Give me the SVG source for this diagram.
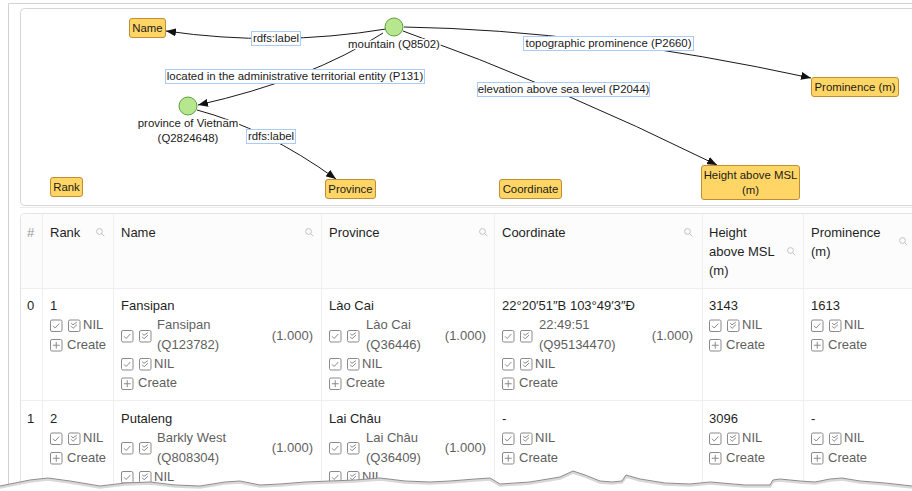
<svg xmlns="http://www.w3.org/2000/svg" xmlns:xlink="http://www.w3.org/1999/xlink" width="912" height="491" viewBox="0 0 912 491">
<style>
text{font-family:"Liberation Sans",Arial,sans-serif}
.g{font-size:11.4px;fill:#1a1a1a}
.gc{text-anchor:middle}
.halo{paint-order:stroke;stroke:#fff;stroke-width:3px;stroke-linejoin:round}
.col{fill:#ffd666;stroke:#c08d35;stroke-width:1}
.ent{fill:#b6e68e;stroke:#5e9e3e;stroke-width:1}
.el{fill:#fff;stroke:#a9cbf5;stroke-width:1}
.edge{fill:none;stroke:#1a1a1a;stroke-width:1}
.t{font-size:13px;fill:#1f1f1f}
.h{font-size:13px;fill:#1f1f1f}
.hash{font-size:13px;fill:#9a9a9a}
.s{font-size:13px;fill:#5f5f5f}
.sep{stroke:#efefef;stroke-width:1}
.ic{fill:none;stroke:#8a8a8a;stroke-width:1}
.sr{fill:none;stroke:#c2c2c2;stroke-width:1}
</style>
<defs>
<marker id="arr" markerUnits="userSpaceOnUse" markerWidth="10" markerHeight="8" refX="10" refY="4" orient="auto">
<path d="M0,0 L10,4 L0,8 z" fill="#111"/>
</marker>
<g id="ck" class="ic"><rect x="0.5" y="0.5" width="11.5" height="11.5" rx="1.5"/><path d="M3,6.3 L5.2,8.5 L9.3,4"/></g>
<g id="dck" class="ic"><rect x="0.5" y="0.5" width="11.5" height="11.5" rx="1.5"/><path d="M3.2,3.7 L5,5.3 L8.8,2.7 M3.2,6.8 L5.1,8.8 L9,5.1"/></g>
<g id="pl" class="ic"><rect x="0.5" y="0.5" width="11.5" height="11.5" rx="1.5"/><path d="M6.25,2.8 V9.7 M2.8,6.25 H9.7"/></g>
<g id="sr" class="sr"><circle cx="3.5" cy="3.5" r="2.9"/><path d="M5.6,5.6 L8.3,8.3"/></g>
</defs>

<rect width="912" height="491" fill="#fff"/>
<!-- outer frame -->
<path d="M8.5,491 V3.5 H912" fill="none" stroke="#d2d2d2"/>
<!-- graph panel -->
<rect x="20.5" y="8.5" width="900" height="197" rx="4" fill="#fff" stroke="#d6d6d6"/>
<line x1="20" y1="207.5" x2="912" y2="207.5" stroke="#ececec"/>

<!-- connectors -->
<g id="connectors">
<path class="edge" d="M386,29 Q276,47 166,31" marker-end="url(#arr)"/>
<path class="edge" d="M383,33 Q310,80 198,105" marker-end="url(#arr)"/>
<path class="edge" d="M197,110 Q265,128 336,179" marker-end="url(#arr)"/>
<path class="edge" d="M404,27 Q590,30 811,78" marker-end="url(#arr)"/>
<path class="edge" d="M403,31 Q555,85 717,165" marker-end="url(#arr)"/>
<g id="lbl-rdfs1"><rect class="el" x="251.5" y="31.5" width="49" height="14"/><text class="g gc" x="276" y="42.3">rdfs:label</text></g>
<g id="lbl-p131"><rect class="el" x="165.5" y="69.5" width="259" height="14"/><text class="g gc" x="295" y="80.3">located in the administrative territorial entity (P131)</text></g>
<g id="lbl-rdfs2"><rect class="el" x="246.5" y="129.5" width="49" height="14"/><text class="g gc" x="271" y="140.3">rdfs:label</text></g>
<g id="lbl-p2660"><rect class="el" x="523.5" y="36.5" width="170" height="14"/><text class="g gc" x="608.5" y="47.3">topographic prominence (P2660)</text></g>
<g id="lbl-p2044"><rect class="el" x="477.5" y="82.5" width="172" height="14"/><text class="g gc" x="563.5" y="93.3">elevation above sea level (P2044)</text></g>
</g>

<!-- nodes -->
<g id="n-mountain"><circle class="ent" cx="394" cy="27" r="9"/><text class="g gc halo" x="394" y="47.5">mountain (Q8502)</text></g>
<g id="n-province-vn"><circle class="ent" cx="188" cy="106" r="9"/><text class="g gc halo" x="188" y="127">province of Vietnam</text><text class="g gc halo" x="188" y="142">(Q2824648)</text></g>
<g id="n-name"><rect class="col" x="129.5" y="18.5" width="36" height="19" rx="2.5"/><text class="g gc" x="147.5" y="32">Name</text></g>
<g id="n-rank"><rect class="col" x="50.5" y="177.5" width="32" height="19" rx="2.5"/><text class="g gc" x="66.5" y="191">Rank</text></g>
<g id="n-province"><rect class="col" x="325.5" y="179.5" width="50" height="19" rx="2.5"/><text class="g gc" x="350.5" y="193">Province</text></g>
<g id="n-coordinate"><rect class="col" x="499.5" y="179.5" width="62" height="19" rx="2.5"/><text class="g gc" x="530.5" y="193">Coordinate</text></g>
<g id="n-height"><rect class="col" x="701.5" y="165.5" width="98" height="34" rx="2.5"/><text class="g gc" x="750.5" y="178.5">Height above MSL</text><text class="g gc" x="750.5" y="194">(m)</text></g>
<g id="n-prominence"><rect class="col" x="811.5" y="77.5" width="87" height="19" rx="2.5"/><text class="g gc" x="855" y="90.5">Prominence (m)</text></g>

<!-- table -->
<g id="table">
<rect x="20.5" y="213.5" width="920" height="300" rx="4" fill="#fff" stroke="#e3e3e3"/>
<path d="M21,288 V217.5 Q21,214 25,214 H912 V288 Z" fill="#fcfcfc"/>
<line class="sep" x1="21" y1="288.5" x2="912" y2="288.5"/>
<line class="sep" x1="21" y1="400.5" x2="912" y2="400.5"/>
<line class="sep" x1="42.5" y1="214" x2="42.5" y2="491"/>
<line class="sep" x1="113.5" y1="214" x2="113.5" y2="491"/>
<line class="sep" x1="321.5" y1="214" x2="321.5" y2="491"/>
<line class="sep" x1="494.5" y1="214" x2="494.5" y2="491"/>
<line class="sep" x1="702.5" y1="214" x2="702.5" y2="491"/>
<line class="sep" x1="803.5" y1="214" x2="803.5" y2="491"/>

<!-- header -->
<text class="hash" x="27" y="236.5">#</text>
<text class="h" x="50" y="236.5">Rank</text><use href="#sr" x="96" y="228"/>
<text class="h" x="121" y="236.5">Name</text><use href="#sr" x="305" y="228"/>
<text class="h" x="329" y="236.5">Province</text><use href="#sr" x="479" y="228"/>
<text class="h" x="502" y="236.5">Coordinate</text><use href="#sr" x="684" y="228"/>
<text class="h" x="709" y="236.5">Height</text><text class="h" x="709" y="256">above MSL</text><text class="h" x="709" y="275">(m)</text><use href="#sr" x="787" y="247"/>
<text class="h" x="811" y="236.5">Prominence</text><text class="h" x="811" y="256">(m)</text><use href="#sr" x="899" y="237"/>

<!-- row 0 -->
<text class="t" x="27" y="309.5">0</text>
<text class="t" x="50" y="309.5">1</text>
<use href="#ck" x="50" y="319.5"/><use href="#dck" x="68" y="319.5"/><text class="s" x="83" y="329">NIL</text>
<use href="#pl" x="50" y="339"/><text class="s" x="67" y="348.5">Create</text>

<text class="t" x="121" y="309.5">Fansipan</text>
<use href="#ck" x="121" y="330"/><use href="#dck" x="139" y="330"/>
<text class="s" x="157" y="328.5">Fansipan</text><text class="s" x="157" y="348.5">(Q123782)</text>
<text class="s" x="313" y="339.5" text-anchor="end">(1.000)</text>
<use href="#ck" x="121" y="358"/><use href="#dck" x="139" y="358"/><text class="s" x="154" y="367.5">NIL</text>
<use href="#pl" x="121" y="377.5"/><text class="s" x="138" y="387">Create</text>

<text class="t" x="329" y="309.5">Lào Cai</text>
<use href="#ck" x="329" y="330"/><use href="#dck" x="347" y="330"/>
<text class="s" x="366" y="328.5">Lào Cai</text><text class="s" x="366" y="348.5">(Q36446)</text>
<text class="s" x="486" y="339.5" text-anchor="end">(1.000)</text>
<use href="#ck" x="329" y="358"/><use href="#dck" x="347" y="358"/><text class="s" x="362" y="367.5">NIL</text>
<use href="#pl" x="329" y="377.5"/><text class="s" x="346" y="387">Create</text>

<text class="t" x="502" y="309.5">22°20′51″B 103°49′3″Đ</text>
<use href="#ck" x="502" y="330"/><use href="#dck" x="520" y="330"/>
<text class="s" x="539" y="328.5">22:49:51</text><text class="s" x="539" y="348.5">(Q95134470)</text>
<text class="s" x="693" y="339.5" text-anchor="end">(1.000)</text>
<use href="#ck" x="502" y="358"/><use href="#dck" x="520" y="358"/><text class="s" x="535" y="367.5">NIL</text>
<use href="#pl" x="502" y="377.5"/><text class="s" x="519" y="387">Create</text>

<text class="t" x="709" y="309.5">3143</text>
<use href="#ck" x="709" y="319.5"/><use href="#dck" x="727" y="319.5"/><text class="s" x="742" y="329">NIL</text>
<use href="#pl" x="709" y="339"/><text class="s" x="726" y="348.5">Create</text>

<text class="t" x="811" y="309.5">1613</text>
<use href="#ck" x="811" y="319.5"/><use href="#dck" x="829" y="319.5"/><text class="s" x="844" y="329">NIL</text>
<use href="#pl" x="811" y="339"/><text class="s" x="828" y="348.5">Create</text>

<!-- row 1 -->
<text class="t" x="27" y="422.5">1</text>
<text class="t" x="50" y="422.5">2</text>
<use href="#ck" x="50" y="432.5"/><use href="#dck" x="68" y="432.5"/><text class="s" x="83" y="442">NIL</text>
<use href="#pl" x="50" y="452"/><text class="s" x="67" y="461.5">Create</text>

<text class="t" x="121" y="422.5">Putaleng</text>
<use href="#ck" x="121" y="442"/><use href="#dck" x="139" y="442"/>
<text class="s" x="157" y="441.5">Barkly West</text><text class="s" x="157" y="461.5">(Q808304)</text>
<text class="s" x="313" y="452" text-anchor="end">(1.000)</text>
<use href="#ck" x="121" y="471"/><use href="#dck" x="139" y="471"/><text class="s" x="154" y="480.5">NIL</text>

<text class="t" x="329" y="422.5">Lai Châu</text>
<use href="#ck" x="329" y="442"/><use href="#dck" x="347" y="442"/>
<text class="s" x="366" y="441.5">Lai Châu</text><text class="s" x="366" y="461.5">(Q36409)</text>
<text class="s" x="486" y="452" text-anchor="end">(1.000)</text>
<use href="#ck" x="329" y="471"/><use href="#dck" x="347" y="471"/><text class="s" x="362" y="480.5">NIL</text>

<text class="t" x="502" y="422.5">-</text>
<use href="#ck" x="502" y="432.5"/><use href="#dck" x="520" y="432.5"/><text class="s" x="535" y="442">NIL</text>
<use href="#pl" x="502" y="452"/><text class="s" x="519" y="461.5">Create</text>

<text class="t" x="709" y="422.5">3096</text>
<use href="#ck" x="709" y="432.5"/><use href="#dck" x="727" y="432.5"/><text class="s" x="742" y="442">NIL</text>
<use href="#pl" x="709" y="452"/><text class="s" x="726" y="461.5">Create</text>

<text class="t" x="811" y="422.5">-</text>
<use href="#ck" x="811" y="432.5"/><use href="#dck" x="829" y="432.5"/><text class="s" x="844" y="442">NIL</text>
<use href="#pl" x="811" y="452"/><text class="s" x="828" y="461.5">Create</text>
</g>

<!-- torn edge -->
<g id="torn">
<path d="M0,486 L10,484 L30,480 L48,478 L70,481 L100,486 L125,483 L150,482 L175,485 L200,486 L225,482 L240,481 L260,485 L280,484 L305,482 L330,481 L355,480 L380,478 L405,481 L430,482 L450,481 L475,479 L490,478 L500,484 L530,482 L560,477 L573,471 L585,475 L600,481 L612,482 L622,481 L626,475 L640,479 L665,483 L690,484 L710,482 L745,485 L770,485 L773,480 L780,479 L800,481 L815,482 L830,479 L842,478 L860,481 L885,483 L912,486 L912,491 L0,491 Z" fill="#fff"/>
<path d="M0,487.5 L10,485.5 L30,481.5 L48,479.5 L70,482.5 L100,487.5 L125,484.5 L150,483.5 L175,486.5 L200,487.5 L225,483.5 L240,482.5 L260,486.5 L280,485.5 L305,483.5 L330,482.5 L355,481.5 L380,479.5 L405,482.5 L430,483.5 L450,482.5 L475,480.5 L490,479.5 L500,485.5 L530,483.5 L560,478.5 L573,472.5 L585,476.5 L600,482.5 L612,483.5 L622,482.5 L626,476.5 L640,480.5 L665,484.5 L690,485.5 L710,483.5 L745,486.5 L770,486.5 L773,481.5 L780,480.5 L800,482.5 L815,483.5 L830,480.5 L842,479.5 L860,482.5 L885,484.5 L912,487.5" fill="none" stroke="#d8d8d8" stroke-width="2.5" stroke-linejoin="round"/>
<path d="M0,486 L10,484 L30,480 L48,478 L70,481 L100,486 L125,483 L150,482 L175,485 L200,486 L225,482 L240,481 L260,485 L280,484 L305,482 L330,481 L355,480 L380,478 L405,481 L430,482 L450,481 L475,479 L490,478 L500,484 L530,482 L560,477 L573,471 L585,475 L600,481 L612,482 L622,481 L626,475 L640,479 L665,483 L690,484 L710,482 L745,485 L770,485 L773,480 L780,479 L800,481 L815,482 L830,479 L842,478 L860,481 L885,483 L912,486" fill="none" stroke="#8c8c8c" stroke-width="1" stroke-linejoin="round"/>
</g>
</svg>
